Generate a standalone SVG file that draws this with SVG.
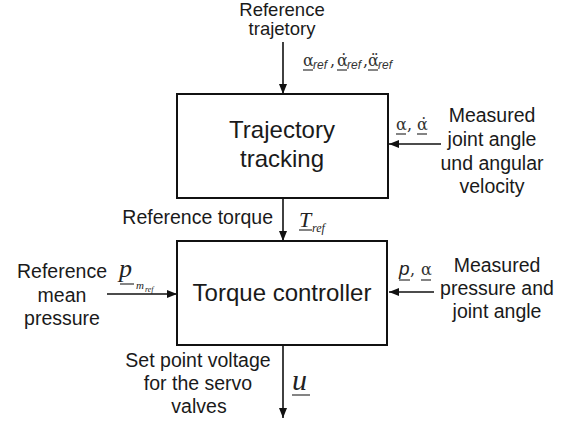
<svg xmlns="http://www.w3.org/2000/svg" width="568" height="423" viewBox="0 0 568 423">
<defs>
<marker id="ah" viewBox="0 0 10 8" refX="10" refY="4" markerWidth="10" markerHeight="8" markerUnits="userSpaceOnUse" orient="auto">
<path d="M0,0 L10,4 L0,8 Z" fill="#111"/>
</marker>
<style>
.box{fill:#fff;stroke:#111;stroke-width:2}
.lbl{font-family:"Liberation Sans",Arial,sans-serif;font-size:19.5px;fill:#1a1a1a;text-anchor:middle}
.top{font-size:18.5px}
.big{font-family:"Liberation Sans",Arial,sans-serif;font-size:24px;fill:#1a1a1a;text-anchor:middle}
.ar{stroke:#111;stroke-width:1.6;fill:none;marker-end:url(#ah)}
.gr{font-family:"DejaVu Serif",serif;font-size:16px;fill:#333}
.sub{font-family:"Liberation Sans",Arial,sans-serif;font-size:12px;font-style:italic;fill:#333}
.mi{font-family:"Liberation Serif","Times New Roman",serif;font-style:italic;fill:#222}
.ul{stroke:#333;stroke-width:1.2}
</style>
</defs>
<rect width="568" height="423" fill="#fff"/>
<g id="connectors">
<line class="ar" x1="283" y1="42" x2="283" y2="94"/>
<line class="ar" x1="441" y1="144" x2="389" y2="144"/>
<line class="ar" x1="283" y1="199" x2="283" y2="241"/>
<line class="ar" x1="107" y1="294" x2="177" y2="294"/>
<line class="ar" x1="434" y1="292" x2="389" y2="292"/>
<line class="ar" x1="283" y1="346" x2="283" y2="418"/>
</g>
<g id="node-trajectory">
<rect class="box" x="177" y="94" width="211" height="104"/>
<text class="big" x="282" y="138">Trajectory</text>
<text class="big" x="282" y="167">tracking</text>
</g>
<g id="node-torque">
<rect class="box" x="177" y="241" width="210" height="104"/>
<text class="big" x="282" y="301">Torque controller</text>
</g>
<g id="label-reftraj">
<text class="lbl top" x="282" y="16">Reference</text>
<text class="lbl top" x="282" y="35">trajetory</text>
<text class="gr" x="303" y="66">α</text><text class="sub" x="313" y="69">ref</text>
<text class="gr" x="330" y="66">,</text>
<text class="gr" x="337" y="66">α̇</text><text class="sub" x="347" y="69">ref</text>
<text class="gr" x="363" y="66">,</text>
<text class="gr" x="368" y="66">α̈</text><text class="sub" x="378" y="69">ref</text>
<line class="ul" x1="303" y1="70" x2="313" y2="70"/>
<line class="ul" x1="337" y1="70" x2="347" y2="70"/>
<line class="ul" x1="368" y1="70" x2="378" y2="70"/>
</g>
<g id="label-measured1">
<text class="lbl" x="492" y="122">Measured</text>
<text class="lbl" x="492" y="146">joint angle</text>
<text class="lbl" x="492" y="170">und angular</text>
<text class="lbl" x="492" y="193">velocity</text>
<text class="gr" x="396" y="130">α</text>
<text class="gr" x="407" y="130">,</text>
<text class="gr" x="417" y="130">α̇</text>
<line class="ul" x1="396" y1="134" x2="406" y2="134"/>
<line class="ul" x1="417" y1="134" x2="427" y2="134"/>
</g>
<g id="label-reftorque">
<text class="lbl" x="273" y="224" style="text-anchor:end">Reference torque</text>
<text class="mi" x="299" y="227" font-size="22">T</text>
<text class="mi" x="312" y="232" font-size="12">ref</text>
<line class="ul" x1="299" y1="230" x2="312" y2="230"/>
</g>
<g id="label-refmean">
<text class="lbl" x="62" y="278">Reference</text>
<text class="lbl" x="62" y="302">mean</text>
<text class="lbl" x="62" y="325">pressure</text>
<text class="mi" x="119" y="277" font-size="26">p</text>
<text class="mi" x="136" y="289" font-size="11">m</text>
<text class="mi" x="145" y="292" font-size="8">ref</text>
<line class="ul" x1="120" y1="284" x2="134" y2="284"/>
</g>
<g id="label-measured2">
<text class="lbl" x="497" y="272">Measured</text>
<text class="lbl" x="497" y="295">pressure and</text>
<text class="lbl" x="497" y="318">joint angle</text>
<text x="399" y="275" style="font-family:'Liberation Sans',Arial,sans-serif;font-style:italic;font-size:19px;fill:#222">p</text>
<text class="gr" x="410" y="275">,</text>
<text class="gr" x="421" y="275">α</text>
<line class="ul" x1="399" y1="280" x2="410" y2="280"/>
<line class="ul" x1="421" y1="280" x2="431" y2="280"/>
</g>
<g id="label-setpoint">
<text class="lbl" x="198" y="367">Set point voltage</text>
<text class="lbl" x="198" y="390">for the servo</text>
<text class="lbl" x="199" y="413">valves</text>
<text class="mi" x="292" y="390" font-size="30">u</text>
<line class="ul" x1="292" y1="395" x2="310" y2="395"/>
</g>
</svg>
